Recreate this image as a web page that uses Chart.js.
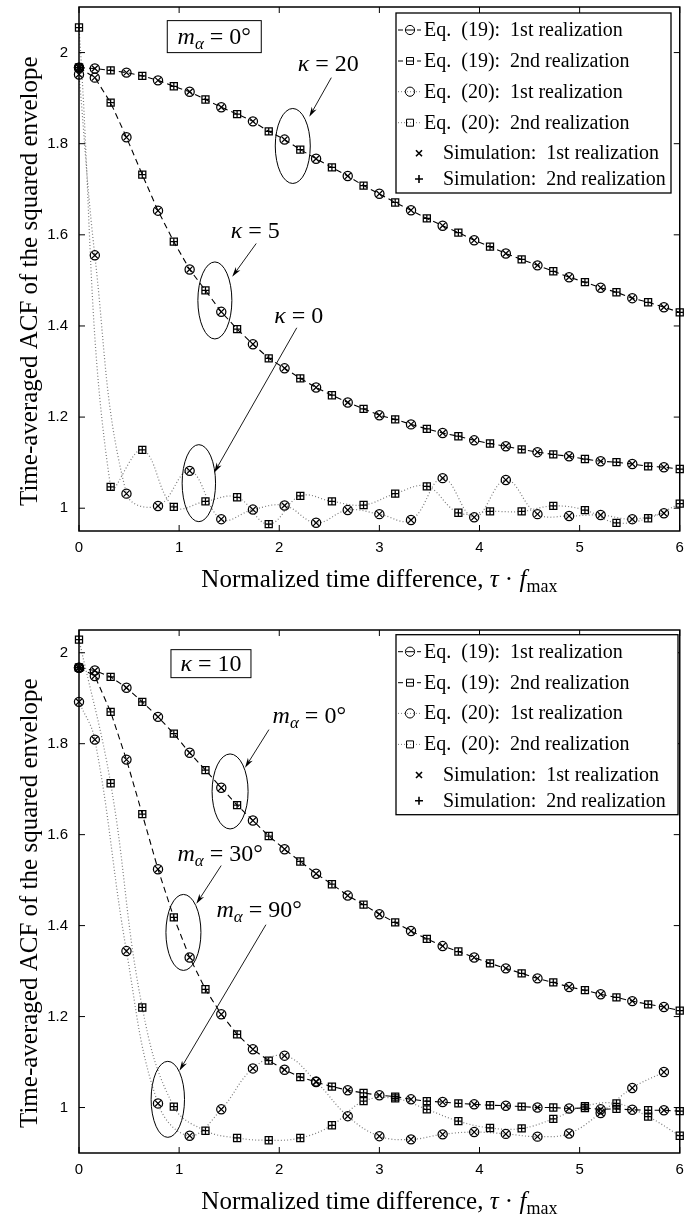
<!DOCTYPE html>
<html>
<head>
<meta charset="utf-8">
<title>Time-averaged ACF of the squared envelope</title>
<script src="https://cdn.jsdelivr.net/npm/chart.js@4.4.1/dist/chart.umd.min.js"></script>
<style>
  html, body { margin: 0; padding: 0; background: #ffffff; }
  canvas { display: block; }
</style>
</head>
<body>
<canvas id="chartTop" width="686" height="608"></canvas>
<canvas id="chartBottom" width="686" height="608"></canvas>
<script>
// Sample positions (tau * f_max) of the 1st and 2nd realization markers
const tauFirst = [0, 0.158, 0.474, 0.789, 1.105, 1.421, 1.737, 2.053, 2.368, 2.684,
                  3.0, 3.316, 3.632, 3.947, 4.263, 4.579, 4.895, 5.21, 5.526, 5.842];
const tauSecond = [0, 0.316, 0.632, 0.947, 1.263, 1.579, 1.895, 2.21, 2.526, 2.842,
                   3.158, 3.474, 3.789, 4.105, 4.421, 4.737, 5.053, 5.368, 5.684, 6.0];

// Axis ticks
const xTicks = [0, 1, 2, 3, 4, 5, 6];
const yTicks = [1, 1.2, 1.4, 1.6, 1.8, 2];

// Upper panel (m_alpha = 0 deg)
const kappa20First = [1.967, 1.965, 1.956, 1.939, 1.914, 1.880, 1.849, 1.809, 1.767, 1.729,
                      1.690, 1.654, 1.620, 1.588, 1.559, 1.533, 1.507, 1.484, 1.461, 1.441];
const kappa20Second = [1.967, 1.961, 1.949, 1.926, 1.897, 1.865, 1.827, 1.787, 1.748, 1.708,
                       1.671, 1.636, 1.605, 1.574, 1.546, 1.520, 1.496, 1.474, 1.452, 1.430];
const kappa5First = [1.967, 1.945, 1.814, 1.653, 1.524, 1.431, 1.360, 1.307, 1.265, 1.232,
                     1.204, 1.184, 1.165, 1.149, 1.136, 1.123, 1.114, 1.103, 1.097, 1.090];
const kappa5Second = [1.967, 1.890, 1.732, 1.585, 1.478, 1.393, 1.329, 1.285, 1.248, 1.218,
                      1.195, 1.174, 1.158, 1.142, 1.129, 1.118, 1.108, 1.101, 1.092, 1.086];
const kappa0First = [1.952, 1.555, 1.032, 1.005, 1.082, 0.976, 0.997, 1.006, 0.968, 0.996,
                     0.987, 0.974, 1.066, 0.980, 1.062, 0.987, 0.983, 0.985, 0.976, 0.989];
const kappa0Second = [2.055, 1.047, 1.128, 1.003, 1.015, 1.024, 0.965, 1.027, 1.015, 1.007,
                      1.032, 1.048, 0.990, 0.993, 0.993, 1.005, 0.996, 0.968, 0.978, 1.010];

// Lower panel (kappa = 10)
const m0First = [1.967, 1.961, 1.923, 1.859, 1.780, 1.703, 1.631, 1.568, 1.514, 1.466,
                 1.425, 1.388, 1.355, 1.330, 1.306, 1.284, 1.265, 1.249, 1.234, 1.221];
const m0Second = [1.967, 1.947, 1.892, 1.822, 1.742, 1.665, 1.597, 1.541, 1.491, 1.446,
                  1.407, 1.371, 1.343, 1.317, 1.295, 1.275, 1.258, 1.242, 1.227, 1.213];
const m30First = [1.967, 1.949, 1.765, 1.524, 1.330, 1.205, 1.128, 1.083, 1.056, 1.038,
                  1.027, 1.018, 1.012, 1.007, 1.004, 1.000, 0.998, 0.996, 0.995, 0.994];
const m30Second = [1.967, 1.870, 1.645, 1.418, 1.260, 1.161, 1.103, 1.067, 1.046, 1.032,
                   1.024, 1.014, 1.009, 1.005, 1.002, 1.000, 0.999, 0.997, 0.994, 0.992];
const m90First = [1.892, 1.809, 1.344, 1.009, 0.938, 0.996, 1.086, 1.114, 1.057, 0.981,
                  0.937, 0.930, 0.941, 0.946, 0.942, 0.936, 0.943, 0.988, 1.043, 1.078];
const m90Second = [2.029, 1.713, 1.220, 1.002, 0.949, 0.933, 0.928, 0.933, 0.961, 1.014,
                   1.020, 0.996, 0.970, 0.955, 0.954, 0.975, 1.003, 1.009, 0.980, 0.938];

// Legend entries
const legendLabels = ['Eq.  (19):  1st realization', 'Eq.  (19):  2nd realization',
                      'Eq.  (20):  1st realization', 'Eq.  (20):  2nd realization',
                      'Simulation:  1st realization', 'Simulation:  2nd realization'];

const serif = '"Liberation Serif", "Times New Roman", serif';
const sans = '"Liberation Sans", Arial, sans-serif';
const rm = size => size + 'px ' + serif;
const it = size => 'italic ' + size + 'px ' + serif;

function mLabel(deg) {
  return [{ t: 'm', f: it(24) }, { t: 'α', f: it(17), dy: 5 }, { t: ' = ' + deg + '°', f: rm(24) }];
}
function kLabel(val) {
  return [{ t: 'κ', f: it(24) }, { t: ' = ' + val, f: rm(24) }];
}

function toPoints(xs, ys) {
  return xs.map((x, i) => ({ x: x, y: ys[i] }));
}

// one curve through the markers of both realizations
function curvePoints(first, second) {
  return toPoints(tauFirst, first).concat(toPoints(tauSecond, second).slice(1))
    .sort((a, b) => a.x - b.x);
}

function dashedLine(first, second) {
  return { data: curvePoints(first, second), borderColor: '#000', borderWidth: 1.1,
           borderDash: [6, 4], pointRadius: 0, tension: 0, fill: false };
}

function dottedLines(first, second) {
  return [[tauFirst, first], [tauSecond, second]].map(p => ({
    data: toPoints(p[0], p[1]), borderColor: '#7a7a7a', borderWidth: 1.2,
    borderDash: [1, 2.2], pointRadius: 0, tension: 0.4, fill: false
  }));
}

function markerSets(firstList, secondList) {
  const circles = [].concat(...firstList.map(v => toPoints(tauFirst, v)));
  const squares = [].concat(...secondList.map(v => toPoints(tauSecond, v)));
  const base = { showLine: false, borderColor: '#000', backgroundColor: 'rgba(0,0,0,0)',
                 pointBorderWidth: 1.25, clip: false };
  return [
    Object.assign({ data: circles, pointStyle: 'crossRot', pointRadius: 4.3 }, base),
    Object.assign({ data: squares, pointStyle: 'cross', pointRadius: 3.5 }, base),
    Object.assign({ data: circles, pointStyle: 'circle', pointRadius: 4.6 }, base),
    Object.assign({ data: squares, pointStyle: 'rect', pointRadius: 5 }, base)
  ];
}

function richText(ctx, parts, cx, baseline) {
  let w = 0;
  parts.forEach(p => { ctx.font = p.f; p.w = ctx.measureText(p.t).width; w += p.w; });
  let x = cx - w / 2;
  ctx.textAlign = 'left';
  ctx.textBaseline = 'alphabetic';
  parts.forEach(p => { ctx.font = p.f; ctx.fillText(p.t, x, baseline + (p.dy || 0)); x += p.w; });
}

function drawArrow(ctx, x1, y1, x2, y2) {
  const ang = Math.atan2(y2 - y1, x2 - x1), len = 10, half = 2.8;
  const c = Math.cos(ang), s = Math.sin(ang);
  const bx = x2 - len * c, by = y2 - len * s;
  ctx.beginPath();
  ctx.moveTo(x1, y1);
  ctx.lineTo(bx + 3 * c, by + 3 * s);
  ctx.stroke();
  ctx.beginPath();
  ctx.moveTo(x2, y2);
  ctx.lineTo(bx + half * s, by - half * c);
  ctx.lineTo(bx + 3 * c, by + 3 * s);
  ctx.lineTo(bx - half * s, by + half * c);
  ctx.closePath();
  ctx.fill();
}

function drawLegend(ctx, left, top, right) {
  const rows = [17, 48, 78.7, 109.7, 140.3, 166];
  ctx.fillStyle = '#fff';
  ctx.fillRect(left, top, right - left, 180);
  ctx.strokeStyle = '#000';
  ctx.lineWidth = 1.3;
  ctx.strokeRect(left, top, right - left, 180);
  rows.forEach((dy, i) => {
    const y = top + dy;
    ctx.save();
    ctx.lineWidth = 1;
    if (i < 2) {
      ctx.strokeStyle = '#000';
      ctx.beginPath();
      ctx.moveTo(left + 2, y); ctx.lineTo(left + 7, y);
      ctx.moveTo(left + 10, y); ctx.lineTo(left + 18, y);
      ctx.moveTo(left + 21, y); ctx.lineTo(left + 25, y);
      ctx.stroke();
    } else if (i < 4) {
      ctx.strokeStyle = '#7a7a7a';
      ctx.setLineDash([1, 2]);
      ctx.beginPath();
      ctx.moveTo(left + 2, y); ctx.lineTo(left + 26, y);
      ctx.stroke();
      ctx.setLineDash([]);
    }
    ctx.strokeStyle = '#000';
    ctx.beginPath();
    if (i === 0 || i === 2) {
      ctx.arc(left + 14, y, 4.6, 0, 2 * Math.PI);
    } else if (i === 1 || i === 3) {
      ctx.rect(left + 10.5, y - 3.5, 7, 7);
    } else if (i === 4) {
      ctx.lineWidth = 1.6;
      ctx.moveTo(left + 20, y - 3); ctx.lineTo(left + 26, y + 3);
      ctx.moveTo(left + 26, y - 3); ctx.lineTo(left + 20, y + 3);
    } else {
      ctx.lineWidth = 1.6;
      ctx.moveTo(left + 19, y); ctx.lineTo(left + 27, y);
      ctx.moveTo(left + 23, y - 4); ctx.lineTo(left + 23, y + 4);
    }
    ctx.stroke();
    ctx.restore();
    ctx.fillStyle = '#000';
    ctx.font = rm(20);
    ctx.textAlign = 'left';
    ctx.textBaseline = 'alphabetic';
    ctx.fillText(legendLabels[i], left + (i < 4 ? 28 : 47), y + 6);
  });
}

const decorations = {
  id: 'decorations',
  afterDatasetsDraw(chart, args, opts) {
    const ctx = chart.ctx, a = chart.chartArea;
    const xs = chart.scales.x, ys = chart.scales.y;
    const px = v => xs.getPixelForValue(v), py = v => ys.getPixelForValue(v);
    ctx.save();
    ctx.strokeStyle = '#000';
    ctx.fillStyle = '#000';

    // inward ticks on all four sides, then the frame
    ctx.lineWidth = 1;
    ctx.beginPath();
    xTicks.forEach(v => {
      ctx.moveTo(px(v), a.bottom); ctx.lineTo(px(v), a.bottom - 6);
      ctx.moveTo(px(v), a.top); ctx.lineTo(px(v), a.top + 6);
    });
    yTicks.forEach(v => {
      ctx.moveTo(a.left, py(v)); ctx.lineTo(a.left + 6, py(v));
      ctx.moveTo(a.right, py(v)); ctx.lineTo(a.right - 6, py(v));
    });
    ctx.stroke();
    ctx.lineWidth = 1.5;
    ctx.strokeRect(a.left, a.top, a.right - a.left, a.bottom - a.top);

    // ellipses and arrows
    ctx.lineWidth = 1;
    opts.ellipses.forEach(e => {
      ctx.beginPath();
      ctx.ellipse(px(e.x), py(e.y), e.rx, e.ry, 0, 0, 2 * Math.PI);
      ctx.stroke();
    });
    ctx.lineWidth = 0.9;
    opts.arrows.forEach(r => drawArrow(ctx, px(r[0]), py(r[1]), px(r[2]), py(r[3])));

    // boxed label
    opts.boxes.forEach(b => {
      const cx = px(b.x), cy = py(b.y);
      ctx.fillStyle = '#fff';
      ctx.fillRect(cx - b.w / 2, cy - b.h / 2, b.w, b.h);
      ctx.lineWidth = 1;
      ctx.strokeRect(cx - b.w / 2, cy - b.h / 2, b.w, b.h);
      ctx.fillStyle = '#000';
      richText(ctx, b.parts, cx, cy + 7);
    });
    opts.labels.forEach(l => richText(ctx, l.parts, px(l.x), py(l.y)));

    drawLegend(ctx, 396, opts.legendTop, opts.legendRight);

    // axis titles
    ctx.fillStyle = '#000';
    richText(ctx, [{ t: 'Normalized time difference, ', f: rm(25) }, { t: 'τ', f: it(25) },
                   { t: ' · ', f: rm(25) }, { t: 'f', f: it(25) }, { t: 'max', f: rm(18), dy: 5 }],
             (a.left + a.right) / 2, a.bottom + 56);
    const yTitle = 'Time-averaged ACF of the squared envelope';
    ctx.font = rm(25);
    const w = ctx.measureText(yTitle).width;
    ctx.translate(37, a.bottom - 25 - w / 2);
    ctx.rotate(-Math.PI / 2);
    ctx.textAlign = 'center';
    ctx.textBaseline = 'alphabetic';
    ctx.fillText(yTitle, 0, 0);
    ctx.restore();
  }
};

function makeChart(id, cfg) {
  return new Chart(document.getElementById(id), {
    type: 'line',
    data: { datasets: cfg.datasets },
    options: {
      responsive: false,
      animation: false,
      events: [],
      layout: { padding: { left: 0, right: 3, top: cfg.top, bottom: 0 } },
      plugins: { legend: { display: false }, tooltip: { enabled: false }, decorations: cfg.deco },
      scales: {
        x: {
          type: 'linear', min: 0, max: 6,
          grid: { display: false, drawTicks: false },
          border: { display: false },
          afterBuildTicks: s => { s.ticks = xTicks.map(v => ({ value: v })); },
          afterFit: s => { s.height = cfg.xHeight; s.paddingLeft = 0; s.paddingRight = 0; },
          ticks: { padding: 8, color: '#000', maxRotation: 0, font: { family: sans, size: 15 },
                   callback: v => String(v) }
        },
        y: {
          type: 'linear', min: cfg.yMin, max: cfg.yMax,
          grid: { display: false, drawTicks: false },
          border: { display: false },
          afterBuildTicks: s => { s.ticks = yTicks.map(v => ({ value: v })); },
          afterFit: s => { s.width = 79; s.paddingTop = 0; s.paddingBottom = 0; },
          ticks: { padding: 11, color: '#000', font: { family: sans, size: 15 },
                   callback: v => String(Number(v.toFixed(2))) }
        }
      }
    },
    plugins: [decorations]
  });
}

makeChart('chartTop', {
  top: 7, xHeight: 77, yMin: 0.95, yMax: 2.1,
  datasets: markerSets([kappa20First, kappa5First, kappa0First], [kappa20Second, kappa5Second, kappa0Second])
    .concat([dashedLine(kappa20First, kappa20Second), dashedLine(kappa5First, kappa5Second)])
    .concat(dottedLines(kappa0First, kappa0Second)),
  deco: {
    legendTop: 13, legendRight: 671,
    boxes: [{ x: 1.351, y: 2.035, w: 94, h: 32, parts: mLabel('0') }],
    labels: [{ x: 2.49, y: 1.960, parts: kLabel('20') },
             { x: 1.76, y: 1.592, parts: kLabel('5') },
             { x: 2.195, y: 1.407, parts: kLabel('0') }],
    arrows: [[2.52, 1.945, 2.30, 1.859], [1.77, 1.581, 1.53, 1.508], [2.175, 1.396, 1.35, 1.078]],
    ellipses: [{ x: 2.135, y: 1.795, rx: 17.5, ry: 37.5 },
               { x: 1.357, y: 1.456, rx: 17, ry: 38.5 },
               { x: 1.197, y: 1.055, rx: 16.7, ry: 38.5 }]
  }
});

makeChart('chartBottom', {
  top: 22, xHeight: 63, yMin: 0.9, yMax: 2.05,
  datasets: markerSets([m0First, m30First, m90First], [m0Second, m30Second, m90Second])
    .concat([dashedLine(m0First, m0Second), dashedLine(m30First, m30Second)])
    .concat(dottedLines(m90First, m90Second)),
  deco: {
    legendTop: 26.7, legendRight: 678,
    boxes: [{ x: 1.318, y: 1.976, w: 80, h: 28, parts: kLabel('10') }],
    labels: [{ x: 2.30, y: 1.846, parts: mLabel('0') },
             { x: 1.41, y: 1.543, parts: mLabel('30') },
             { x: 1.80, y: 1.420, parts: mLabel('90') }],
    arrows: [[1.897, 1.831, 1.658, 1.747], [1.42, 1.532, 1.172, 1.448], [1.867, 1.402, 1.003, 1.081]],
    ellipses: [{ x: 1.509, y: 1.695, rx: 18, ry: 37.5 },
               { x: 1.043, y: 1.385, rx: 17.5, ry: 38 },
               { x: 0.887, y: 1.018, rx: 16.7, ry: 38 }]
  }
});
</script>
</body>
</html>
